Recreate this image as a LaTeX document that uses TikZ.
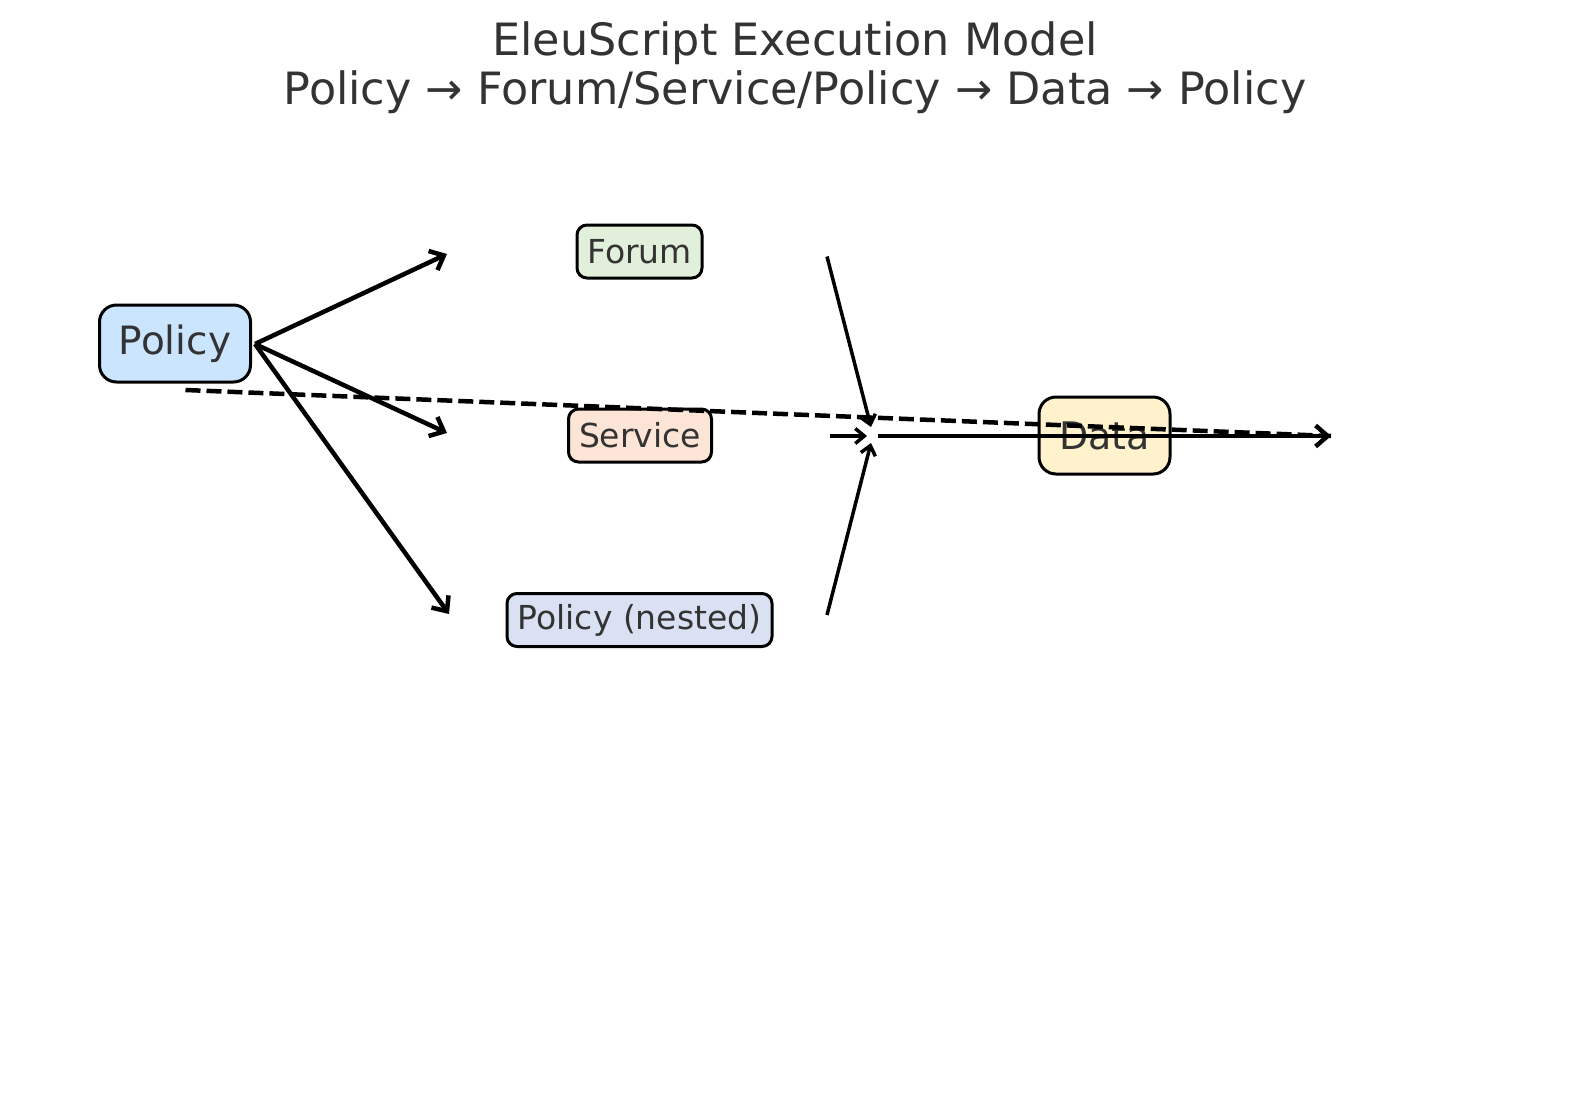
\documentclass[tikz,border=0pt]{standalone}
\usepackage{fontspec}
\setmainfont{DejaVu Sans}
\usetikzlibrary{arrows.meta}
\definecolor{txt}{HTML}{333333}
\definecolor{cpolicy}{HTML}{CCE5FF}
\definecolor{cforum}{HTML}{E2EFDA}
\definecolor{cservice}{HTML}{FCE4D6}
\definecolor{cnested}{HTML}{D9E1F2}
\definecolor{cdata}{HTML}{FFF2CC}
\begin{document}
\begin{tikzpicture}[x=1pt,y=-1pt,
  bigbox/.style={draw=black, line width=3pt, rounded corners=17pt, text=txt, inner sep=0pt,
    minimum height=77pt},
  smallbox/.style={draw=black, line width=3pt, rounded corners=10pt, text=txt, inner sep=0pt,
    font=\fontsize{33}{40}\selectfont, minimum height=53pt},
  titletext/.style={text=txt, font=\fontsize{44.5}{53}\selectfont, inner sep=0pt},
  mainarrow/.style={line width=4.5pt, -{Straight Barb[length=12pt,width=21pt,line width=4.5pt]}},
  feedarrow/.style={line width=3.5pt, -{Straight Barb[length=9pt,width=15pt,line width=3.5pt]}},
  dashline/.style={line width=4.5pt, dash pattern=on 15pt off 6pt}
]
\useasboundingbox (0,0) rectangle (1589,1103);

\node[titletext] (t1) at (795,43) {EleuScript Execution Model};
\node[titletext] (t2) at (795,92) {Policy → Forum/Service/Policy → Data → Policy};

\node[bigbox, fill=cpolicy, minimum width=151pt, font=\fontsize{39}{47}\selectfont] (policy) at (175,343.5) {\raisebox{-6pt}{Policy}};
\node[smallbox, fill=cforum, minimum width=125pt] (forum) at (639.5,251.5) {Forum};
\node[smallbox, fill=cservice, minimum width=143pt] (service) at (640,435.5) {Service};
\node[smallbox, fill=cnested, minimum width=265pt] (nested) at (639.5,620) {Policy (nested)};
\node[bigbox, fill=cdata, minimum width=131pt, font=\fontsize{38}{46}\selectfont] (data) at (1104.5,435.5) {Data};

% free ends
\coordinate (ps) at (255,344);
\coordinate (fin) at (447,254);
\coordinate (sin) at (447,433);
\coordinate (nin) at (449,614);
\coordinate (fout) at (827,256.5);
\coordinate (sout) at (830,436);
\coordinate (nout) at (827,615);
\coordinate (jtop) at (871,427);
\coordinate (jmid) at (867,436);
\coordinate (jbot) at (871,443);
\coordinate (jstart) at (878,436);
\coordinate (dstart) at (185.5,390);
\coordinate (end) at (1331,436);

\draw[mainarrow] (ps) -- (fin);
\draw[mainarrow] (ps) -- (sin);
\draw[mainarrow] (ps) -- (nin);

\draw[feedarrow] (fout) -- (jtop);
\draw[feedarrow] (sout) -- (jmid);
\draw[feedarrow] (nout) -- (jbot);

\draw[dashline] (dstart) -- (end);
\draw[mainarrow] (jstart) -- (end);
\end{tikzpicture}
\end{document}
